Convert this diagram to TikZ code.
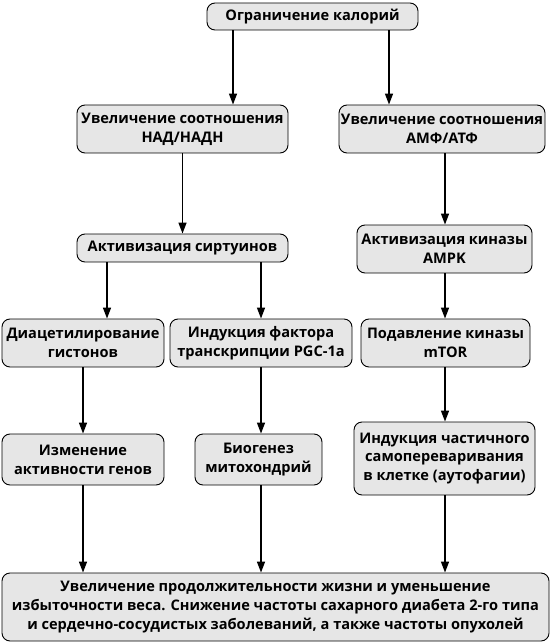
\documentclass[tikz,border=0pt]{standalone}
\usepackage{fontspec}
\setmainfont{Open Sans}
\usetikzlibrary{arrows.meta}
\definecolor{boxfill}{HTML}{E6E6E6}
\tikzset{
  box/.style={draw=black, line width=0.9pt, fill=boxfill, rounded corners=8pt,
    align=center, inner sep=0pt, font=\fontsize{14.6}{18.8}\selectfont\bfseries},
  arr/.style={line width=1.5pt, -{Triangle[length=11pt,width=8pt]}}
}
\begin{document}
\begin{tikzpicture}[x=1pt,y=-1pt]
\useasboundingbox (0,0) rectangle (552,644);
\node[box, minimum width=211, minimum height=27] (top) at (312.5,16.5) {Ограничение калорий};
\node[box, minimum width=211, minimum height=48] (nad) at (182.5,129) {Увеличение соотношения\\НАД/НАДН};
\node[box, minimum width=206, minimum height=48] (amf) at (442,129) {Увеличение соотношения\\АМФ/АТФ};
\node[box, minimum width=211, minimum height=28] (sirt) at (182.5,248) {Активизация сиртуинов};
\node[box, minimum width=175, minimum height=48] (ampk) at (444.5,249) {Активизация киназы\\AMPK};
\node[box, minimum width=162, minimum height=48] (diac) at (83,343) {Диацетилирование\\гистонов};
\node[box, minimum width=182, minimum height=48] (pgc) at (261,343) {Индукция фактора\\транскрипции PGC-1a};
\node[box, minimum width=169, minimum height=48] (mtor) at (445.5,343) {Подавление киназы\\mTOR};
\node[box, minimum width=162, minimum height=51] (izm) at (83,459.5) {Изменение\\активности генов};
\node[box, minimum width=127, minimum height=51] (bio) at (258.5,459.5) {Биогенез\\митохондрий};
\node[box, minimum width=181, minimum height=73] (auto) at (444.5,458.5) {Индукция частичного\\самопереваривания\\в клетке (аутофагии)};
\node[box, minimum width=547, minimum height=68] (fin) at (275.5,607) {Увеличение продолжительности жизни и уменьшение\\избыточности веса. Снижение частоты сахарного диабета 2-го типа\\и сердечно-сосудистых заболеваний, а также частоты опухолей};
\coordinate (xa) at (233,0);
\coordinate (xb) at (389,0);
\coordinate (xc) at (107,0);
\coordinate (xd) at (261,0);
\coordinate (xe) at (445,0);
\coordinate (xf) at (83,0);
\draw[arr] (top.south -| xa) -- (nad.north -| xa);
\draw[arr] (top.south -| xb) -- (amf.north -| xb);
\draw[arr] (nad.south) -- (sirt.north);
\draw[arr] (amf.south -| xe) -- (ampk.north -| xe);
\draw[arr] (sirt.south -| xc) -- (diac.north -| xc);
\draw[arr] (sirt.south -| xd) -- (pgc.north -| xd);
\draw[arr] (ampk.south -| xe) -- (mtor.north -| xe);
\draw[arr] (diac.south -| xf) -- (izm.north -| xf);
\draw[arr] (pgc.south -| xd) -- (bio.north -| xd);
\draw[arr] (mtor.south -| xe) -- (auto.north -| xe);
\draw[arr] (izm.south -| xf) -- (fin.north -| xf);
\draw[arr] (bio.south -| xd) -- (fin.north -| xd);
\draw[arr] (auto.south -| xe) -- (fin.north -| xe);
\end{tikzpicture}
\end{document}
